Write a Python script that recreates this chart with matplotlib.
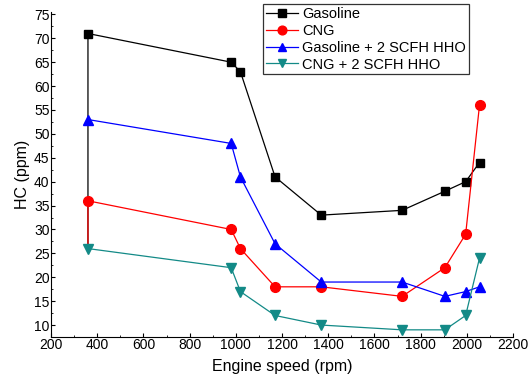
import matplotlib.pyplot as plt
from matplotlib.ticker import MultipleLocator

plt.rcParams['font.family'] = ['Liberation Sans', 'DejaVu Sans']

# engine speed (rpm) and HC (ppm)
speed = [360, 980, 1020, 1170, 1370, 1720, 1905, 1995, 2055]
gasoline = [71, 65, 63, 41, 33, 34, 38, 40, 44]
cng = [36, 30, 26, 18, 18, 16, 22, 29, 56]
gasoline_hho = [53, 48, 41, 27, 19, 19, 16, 17, 18]
cng_hho = [26, 22, 17, 12, 10, 9, 9, 12, 24]
# the first points are joined down to the lowest value at 360 rpm
start_low = 26

fig = plt.figure(figsize=(5.32, 3.76), dpi=100)
ax = fig.add_axes([51 / 532, 39 / 376, 462 / 532, 325 / 376])

ax.plot([speed[0]] + speed, [start_low] + gasoline, '-s', color='black', lw=0.9, ms=6,
        markevery=slice(1, None), label='Gasoline')
ax.plot([speed[0]] + speed, [start_low] + cng, '-o', color='red', lw=0.9, ms=7,
        markevery=slice(1, None), label='CNG')
ax.plot(speed, gasoline_hho, '-^', color='blue', lw=0.9, ms=7, label='Gasoline + 2 SCFH HHO')
ax.plot(speed, cng_hho, '-v', color='#138a87', lw=0.9, ms=7, label='CNG + 2 SCFH HHO')

ax.set_xlim(200, 2200)
ax.set_ylim(7.5, 75.5)
ax.xaxis.set_major_locator(MultipleLocator(200))
ax.yaxis.set_major_locator(MultipleLocator(5))
ax.xaxis.set_minor_locator(MultipleLocator(100))
ax.yaxis.set_minor_locator(MultipleLocator(2.5))
ax.tick_params(which='major', direction='in', length=3, width=0.8, labelsize=10, pad=1)
ax.tick_params(which='minor', direction='in', length=1.5, width=0.6)
ax.spines['top'].set_visible(False)
ax.spines['right'].set_visible(False)
ax.set_xlabel('Engine speed (rpm)', fontsize=11.5, labelpad=5)
ax.set_ylabel('HC (ppm)', fontsize=11.5, labelpad=3)

leg = ax.legend(loc='upper left', bbox_to_anchor=(212 / 462, 1.025), fontsize=10.5,
                frameon=True, fancybox=False, edgecolor='black', handlelength=2.2,
                handletextpad=0.3, borderpad=0.2, labelspacing=0.2, borderaxespad=0,
                markerscale=0.9)
leg.get_frame().set_linewidth(0.9)

fig.savefig('out.png', dpi=100)
